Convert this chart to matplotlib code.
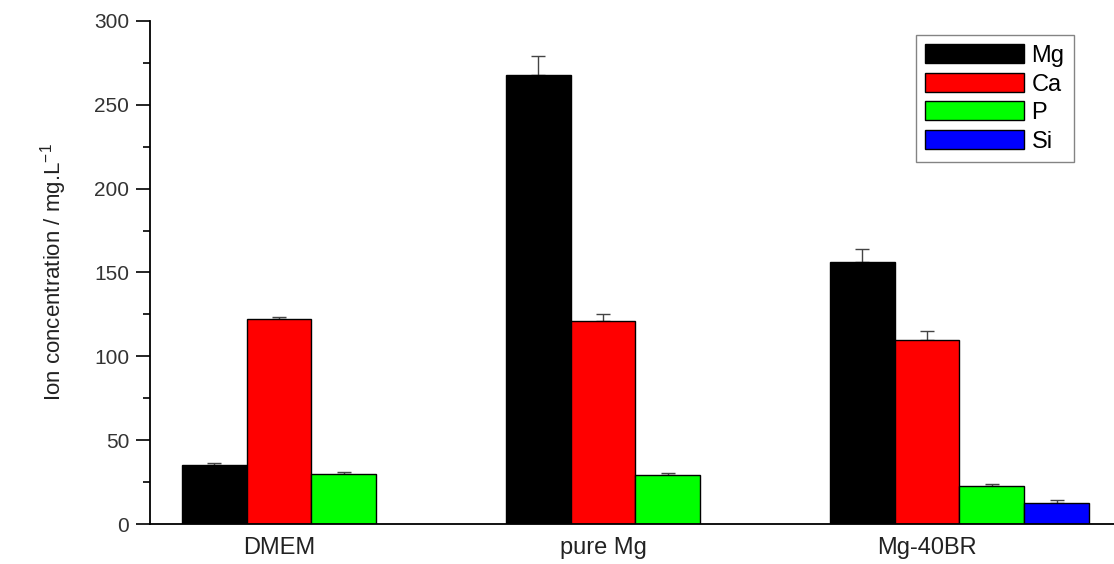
import numpy as np
import matplotlib
matplotlib.use("Agg")
import matplotlib.pyplot as plt
from matplotlib.ticker import MultipleLocator

# Datos
groups = ["DMEM", "pure Mg", "Mg-40BR"]
ions = ["Mg", "Ca", "P", "Si"]
mg_vals = [35, 268, 156]
ca_vals = [122, 121, 110]
p_vals = [30, 29, 22.5]
si_vals = [0, 0, 12.5]
mg_err = [1.5, 11, 8]
ca_err = [1.5, 4, 5]
p_err = [1.0, 1.5, 1.5]
si_err = [0, 0, 2]

colors = {"Mg": "#000000", "Ca": "#ff0000", "P": "#00ff00", "Si": "#0000ff"}

plt.rcParams["font.family"] = ["Liberation Sans", "DejaVu Sans"]

fig = plt.figure(figsize=(11.14, 5.64), dpi=100)
ax = fig.add_axes([0.1347, 0.0709, 0.8653, 0.892])

x = np.arange(len(groups))
w = 0.2
series = [(mg_vals, mg_err), (ca_vals, ca_err), (p_vals, p_err), (si_vals, si_err)]
for i, (name, (vals, err)) in enumerate(zip(ions, series)):
    vals = np.array(vals, dtype=float)
    err = np.array(err, dtype=float)
    pos = x + (i - 1) * w
    mask = vals > 0 if name == "Si" else np.ones(len(vals), bool)
    ax.bar(pos[mask], vals[mask], width=w, color=colors[name], edgecolor="black",
           linewidth=1.0, label=name, zorder=2)
    ax.errorbar(pos[mask], vals[mask], yerr=[np.zeros(mask.sum()), err[mask]],
                fmt="none", ecolor="#444444", elinewidth=1.0, capsize=5, capthick=1.0, zorder=1)

ax.set_xlim(-0.398, 2.577)
ax.set_ylim(0, 300)
ax.set_xticks(x)
ax.set_xticklabels(groups, fontsize=17, color="#222222")
ax.tick_params(axis="x", length=0, pad=9)
ax.yaxis.set_major_locator(MultipleLocator(50))
ax.yaxis.set_minor_locator(MultipleLocator(25))
ax.tick_params(axis="y", which="major", direction="out", length=10, width=1.2,
               labelsize=15, labelcolor="#333333", pad=5)
ax.tick_params(axis="y", which="minor", direction="out", length=5, width=1.2)

for s in ["top", "right"]:
    ax.spines[s].set_visible(False)
for s in ["left", "bottom"]:
    ax.spines[s].set_linewidth(1.3)

ax.set_ylabel("Ion concentration / mg.L$^{\\mathregular{-1}}$", fontsize=16, color="#222222",
              labelpad=18)

leg = ax.legend(loc="upper right", bbox_to_anchor=(0.9585, 0.972), borderaxespad=0,
                fontsize=17, handlelength=4.2, handleheight=0.85, handletextpad=0.3,
                labelspacing=0.25, borderpad=0.4, fancybox=False, frameon=True,
                edgecolor="#666666")
leg.get_frame().set_linewidth(1.0)

fig.savefig("out.png", dpi=100)
